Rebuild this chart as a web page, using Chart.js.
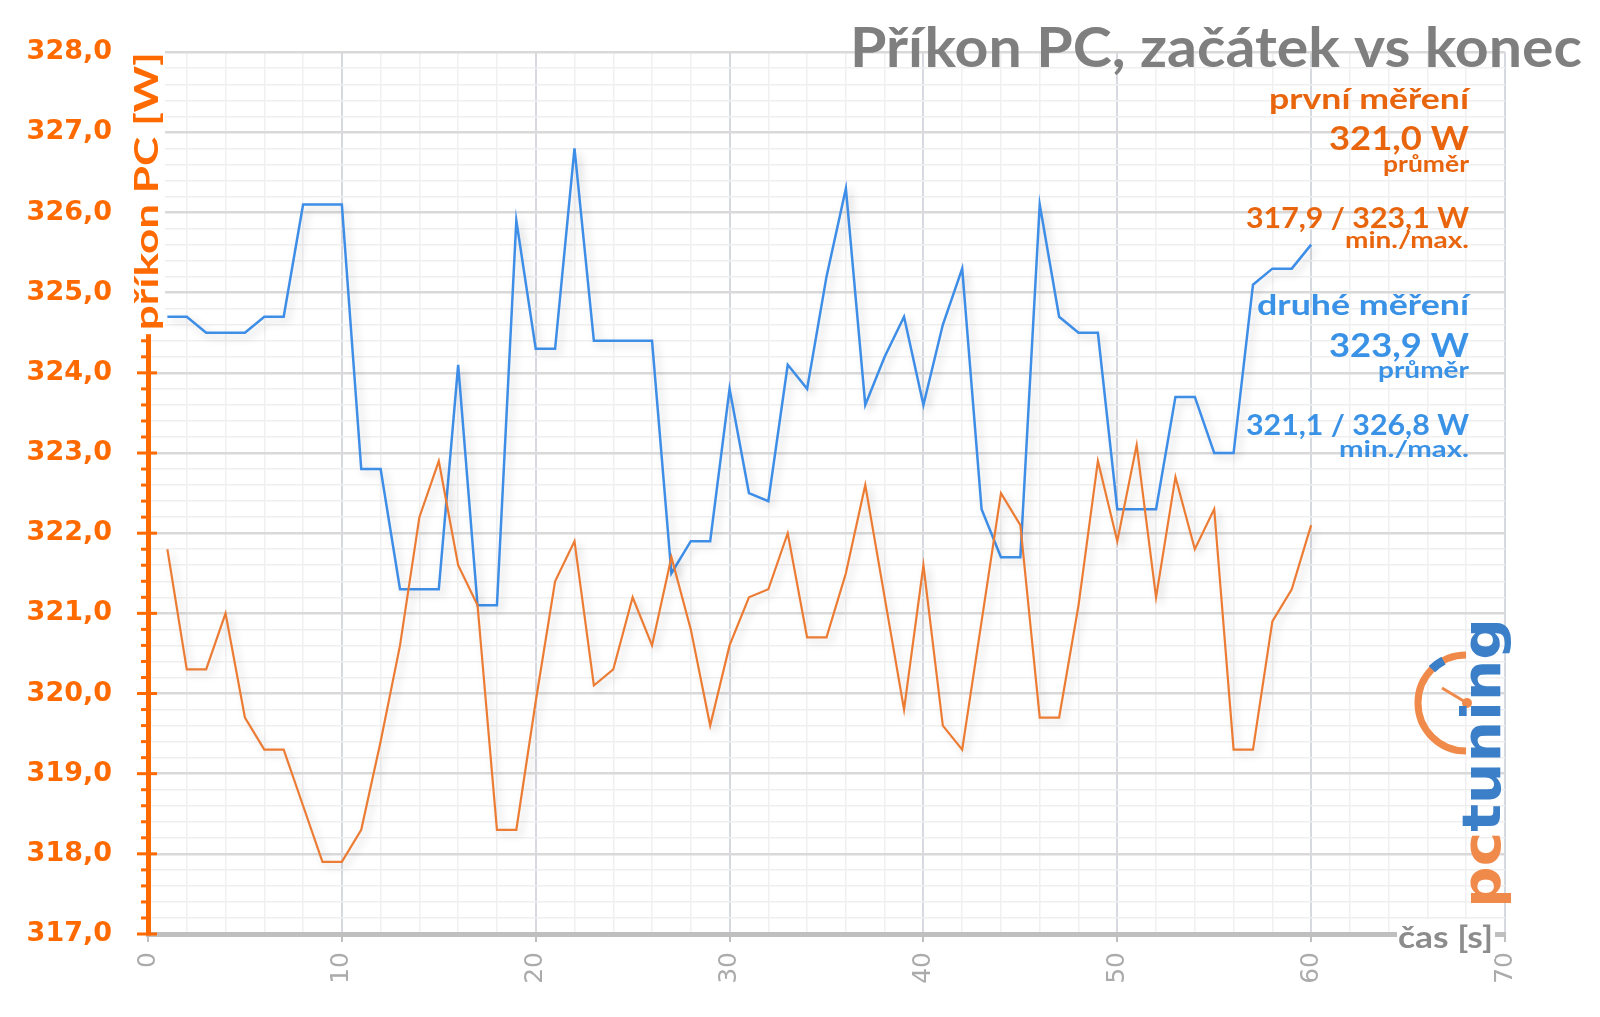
<!DOCTYPE html>
<html>
<head>
    <meta charset="UTF-8">
    <title>Příkon PC, začátek vs konec</title>
    <script src="https://cdn.jsdelivr.net/npm/chart.js@4.4.1/dist/chart.umd.min.js"></script>
    <style>
        body { margin: 0; background: #fff; }
        canvas { display: block; }
    </style>
</head>
<body>
<canvas id="myChart" width="1600" height="1017"></canvas>
<script>
// cas [s]
var cas = [1,2,3,4,5,6,7,8,9,10,11,12,13,14,15,16,17,18,19,20,
           21,22,23,24,25,26,27,28,29,30,31,32,33,34,35,36,37,38,39,40,
           41,42,43,44,45,46,47,48,49,50,51,52,53,54,55,56,57,58,59,60]

// první měření (orange)
var prvni = [321.8,320.3,320.3,321.0,319.7,319.3,319.3,318.6,317.9,317.9,
             318.3,319.4,320.6,322.2,322.9,321.6,321.1,318.3,318.3,319.9,
             321.4,321.9,320.1,320.3,321.2,320.6,321.7,320.8,319.6,320.6,
             321.2,321.3,322.0,320.7,320.7,321.5,322.6,321.2,319.8,321.6,
             319.6,319.3,320.9,322.5,322.1,319.7,319.7,321.1,322.9,321.9,
             323.1,321.2,322.7,321.8,322.3,319.3,319.3,320.9,321.3,322.1]

// druhé měření (blue)
var druhe = [324.7,324.7,324.5,324.5,324.5,324.7,324.7,326.1,326.1,326.1,
             322.8,322.8,321.3,321.3,321.3,324.1,321.1,321.1,325.9,324.3,
             324.3,326.8,324.4,324.4,324.4,324.4,321.5,321.9,321.9,323.8,
             322.5,322.4,324.1,323.8,325.2,326.3,323.6,324.2,324.7,323.6,
             324.6,325.3,322.3,321.7,321.7,326.1,324.7,324.5,324.5,322.3,
             322.3,322.3,323.7,323.7,323.0,323.0,325.1,325.3,325.3,325.6]

var xLabels = [0,10,20,30,40,50,60,70]
var nadpis = 'Příkon PC, začátek vs konec'
var osaY = 'příkon PC [W]'
var osaX = 'čas [s]'
var prvniText = ['první měření', '321,0 W', 'průměr', '317,9 / 323,1 W', 'min./max.']
var druheText = ['druhé měření', '323,9 W', 'průměr', '321,1 / 326,8 W', 'min./max.']

var orange = '#FF6A00'
var textOrange = '#E8650E'
var textBlue = '#3A92E6'
var lineOrange = '#EC7C34'
var lineBlue = '#3E8EE8'

// [size, baseline, width]
var prvniStyl = [[28, 109, 200], [33, 150, 140], [22, 172, 86], [29, 228, 223], [22, 248, 124]]
var druheStyl = [[28, 315, 212], [33, 357, 140], [22, 378, 91], [29, 435, 223], [22, 457, 130]]

function fitText(ctx, text, x, y, size, color, width) {
    ctx.save()
    ctx.font = 'bold ' + size + 'px Lato'
    var s = width / ctx.measureText(text).width
    ctx.translate(x, y)
    ctx.scale(s, 1)
    ctx.textAlign = 'right'
    ctx.textBaseline = 'alphabetic'
    ctx.fillStyle = color
    ctx.fillText(text, 0, 0)
    ctx.restore()
}

function isMajor(v) {
    return Math.abs(v - Math.round(v)) < 1e-6
}

var shadowPlugin = {
    id: 'shadow',
    beforeDatasetDraw: function(chart) {
        var ctx = chart.ctx
        ctx.save()
        ctx.shadowColor = 'rgba(0,0,0,0.18)'
        ctx.shadowBlur = 8
        ctx.shadowOffsetX = 4
        ctx.shadowOffsetY = 4
    },
    afterDatasetDraw: function(chart) {
        chart.ctx.restore()
    }
}

var decorPlugin = {
    id: 'decor',
    afterDraw: function(chart) {
        var ctx = chart.ctx
        var area = chart.chartArea
        var ys = chart.scales.y

        // y axis tick marks
        ctx.save()
        ctx.strokeStyle = orange
        ctx.lineWidth = 3
        ys.ticks.forEach(function(t) {
            var py = ys.getPixelForValue(t.value)
            ctx.beginPath()
            if (isMajor(t.value)) {
                ctx.moveTo(area.left - 11, py)
                ctx.lineTo(area.left + 9, py)
            } else {
                ctx.moveTo(area.left - 7, py)
                ctx.lineTo(area.left, py)
            }
            ctx.stroke()
        })
        ctx.restore()

        // y axis title
        ctx.save()
        ctx.fillStyle = '#fff'
        ctx.fillRect(area.left - 18, area.top - 4, 35, 286)
        ctx.translate(area.left, area.top + 139)
        ctx.rotate(-Math.PI / 2)
        ctx.font = 'bold 32px Lato'
        var s = 278 / ctx.measureText(osaY).width
        ctx.scale(s, 1)
        ctx.textAlign = 'center'
        ctx.textBaseline = 'middle'
        ctx.fillStyle = orange
        ctx.fillText(osaY, 0, 0)
        ctx.restore()

        // x axis title
        ctx.save()
        ctx.fillStyle = '#fff'
        ctx.fillRect(area.right - 108, area.bottom - 15, 98, 40)
        ctx.restore()
        fitText(ctx, osaX, area.right - 12, area.bottom + 14, 30, '#8C8C8C', 95)

        // chart title
        fitText(ctx, nadpis, 1582, 67, 56, '#7F7F7F', 732)

        // summary texts
        prvniText.forEach(function(t, i) {
            var st = prvniStyl[i]
            fitText(ctx, t, 1469, st[1], st[0], textOrange, st[2])
        })
        druheText.forEach(function(t, i) {
            var st = druheStyl[i]
            fitText(ctx, t, 1469, st[1], st[0], textBlue, st[2])
        })

        // pctuning logo
        var cx = area.right - 39, cy = 703
        ctx.save()
        ctx.lineCap = 'butt'
        ctx.strokeStyle = '#F08A4B'
        ctx.lineWidth = 7
        ctx.beginPath()
        ctx.arc(cx, cy, 48, -Math.PI / 2, Math.PI / 2, true)
        ctx.stroke()
        ctx.strokeStyle = '#3A7FC8'
        ctx.lineWidth = 9
        ctx.beginPath()
        ctx.arc(cx, cy, 48, -2.36, -2.06, false)
        ctx.stroke()
        ctx.strokeStyle = '#F08A4B'
        ctx.lineWidth = 3
        ctx.beginPath()
        ctx.moveTo(cx + 1, cy)
        ctx.lineTo(cx - 24, cy - 15)
        ctx.stroke()
        ctx.fillStyle = '#F08A4B'
        ctx.beginPath()
        ctx.arc(cx + 1, cy, 5, 0, Math.PI * 2)
        ctx.fill()
        ctx.restore()

        ctx.save()
        ctx.translate(area.right - 5, 908)
        ctx.rotate(-Math.PI / 2)
        ctx.font = 'bold 54px "DejaVu Sans"'
        var w1 = ctx.measureText('pc').width
        var w2 = ctx.measureText('tuning').width
        ctx.scale(290 / (w1 + w2), 1)
        ctx.textAlign = 'left'
        ctx.textBaseline = 'alphabetic'
        ctx.fillStyle = '#F08A4B'
        ctx.fillText('pc', 0, 0)
        ctx.fillStyle = '#3A7FC8'
        ctx.fillText('tuning', w1, 0)
        ctx.restore()
    }
}

var ctx = document.getElementById('myChart').getContext('2d')
var chart = new Chart(ctx, {
    type: 'line',
    data: {
        datasets: [
            {
                label: 'první měření',
                data: cas.map(function(c, i) { return {x: c, y: prvni[i]} }),
                borderColor: lineOrange,
                borderWidth: 2.2,
                pointRadius: 0,
                tension: 0,
                fill: false
            },
            {
                label: 'druhé měření',
                data: cas.map(function(c, i) { return {x: c, y: druhe[i]} }),
                borderColor: lineBlue,
                borderWidth: 2.5,
                pointRadius: 0,
                tension: 0,
                fill: false
            }
        ]
    },
    options: {
        responsive: false,
        animation: false,
        devicePixelRatio: 1,
        layout: { padding: { top: 48, right: 95, left: 0, bottom: 0 } },
        plugins: {
            legend: { display: false },
            tooltip: { enabled: false }
        },
        scales: {
            x: {
                type: 'linear',
                min: 0,
                max: 70,
                afterFit: function(scale) { scale.height = 83 },
                border: { color: '#BFBFBF', width: 5 },
                grid: {
                    color: function(c) { return c.tick.value % 10 === 0 ? '#D6D9E0' : '#F0F0F3' },
                    lineWidth: function(c) { return c.tick.value % 10 === 0 ? 2 : 1.5 },
                    drawTicks: true,
                    tickLength: 8,
                    tickWidth: 2,
                    tickColor: function(c) { return c.tick.value % 10 === 0 ? '#BFBFBF' : 'rgba(0,0,0,0)' }
                },
                ticks: {
                    stepSize: 2,
                    autoSkip: false,
                    maxRotation: 90,
                    minRotation: 90,
                    padding: 10,
                    color: '#ABABAB',
                    font: { family: 'DejaVu Sans', size: 25 },
                    callback: function(v) { return xLabels.indexOf(v) >= 0 ? String(v) : '' }
                }
            },
            y: {
                min: 317,
                max: 328,
                afterFit: function(scale) { scale.width = 148 },
                border: { color: orange, width: 5 },
                grid: {
                    color: function(c) { return isMajor(c.tick.value) ? '#D9D9D9' : '#EFEFEF' },
                    lineWidth: function(c) { return isMajor(c.tick.value) ? 2.5 : 1.5 },
                    drawTicks: false
                },
                ticks: {
                    stepSize: 0.2,
                    autoSkip: false,
                    padding: 36,
                    color: orange,
                    font: { family: 'DejaVu Sans', size: 27, weight: 'bold' },
                    callback: function(v) { return isMajor(v) ? v.toFixed(1).replace('.', ',') : '' }
                }
            }
        }
    },
    plugins: [shadowPlugin, decorPlugin]
})
</script>
</body>
</html>
